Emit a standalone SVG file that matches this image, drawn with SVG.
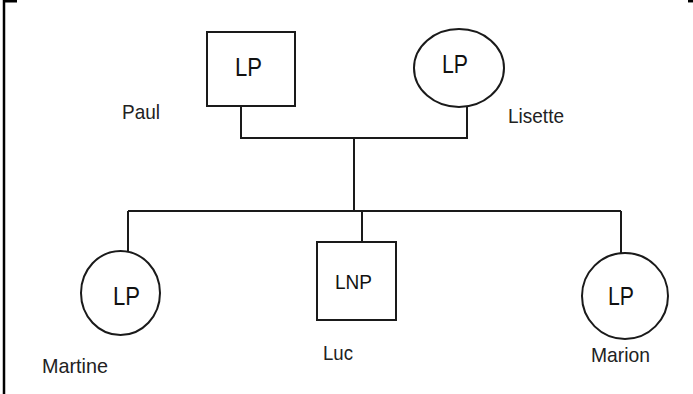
<svg xmlns="http://www.w3.org/2000/svg" width="693" height="394" viewBox="0 0 693 394">
  <style>
    .shape { fill: #ffffff; stroke: #1a1a1a; stroke-width: 2; }
    .link { fill: none; stroke: #1a1a1a; stroke-width: 2; }
    .frame { fill: none; stroke: #000000; stroke-width: 2.5; }
    .code { font-family: "Liberation Sans", Arial, sans-serif; font-size: 25px; fill: #111111; }
    .code-sm { font-family: "Liberation Sans", Arial, sans-serif; font-size: 20px; fill: #111111; }
    .name { font-family: "Liberation Sans", Arial, sans-serif; font-size: 21px; fill: #222222; }
  </style>

  <rect width="693" height="394" fill="#ffffff"/>

  <!-- page frame fragments -->
  <g id="frame">
    <polyline class="frame" points="17,1.2 4,1.2 4,394"/>
    <line class="frame" x1="688" y1="1.2" x2="693" y2="1.2"/>
  </g>

  <!-- connectors -->
  <g id="connectors">
    <polyline class="link" points="241,106 241,138 467,138 467,107"/>
    <line class="link" x1="354" y1="138" x2="354" y2="211"/>
    <line class="link" x1="128" y1="211" x2="621" y2="211"/>
    <line class="link" x1="128" y1="211" x2="128" y2="251"/>
    <line class="link" x1="362" y1="211" x2="362" y2="242"/>
    <line class="link" x1="621" y1="211" x2="621" y2="253"/>
  </g>

  <g id="paul">
    <rect class="shape" x="207" y="32" width="88" height="74"/>
    <text class="code" x="248.5" y="76" text-anchor="middle" textLength="27" lengthAdjust="spacingAndGlyphs">LP</text>
    <text class="name" x="122" y="119" textLength="38" lengthAdjust="spacingAndGlyphs">Paul</text>
  </g>

  <g id="lisette">
    <ellipse class="shape" cx="459" cy="68" rx="45" ry="39"/>
    <text class="code" x="455" y="73" text-anchor="middle" textLength="26" lengthAdjust="spacingAndGlyphs">LP</text>
    <text class="name" x="508" y="123" textLength="56" lengthAdjust="spacingAndGlyphs">Lisette</text>
  </g>

  <g id="martine">
    <ellipse class="shape" cx="120.5" cy="293" rx="39.5" ry="42"/>
    <text class="code" x="126.5" y="305" text-anchor="middle" textLength="27" lengthAdjust="spacingAndGlyphs">LP</text>
    <text class="name" x="42" y="373" textLength="66" lengthAdjust="spacingAndGlyphs">Martine</text>
  </g>

  <g id="luc">
    <rect class="shape" x="317" y="242" width="79" height="78"/>
    <text class="code-sm" x="353.5" y="289" text-anchor="middle" textLength="37" lengthAdjust="spacingAndGlyphs">LNP</text>
    <text class="name" x="323" y="360" textLength="30" lengthAdjust="spacingAndGlyphs">Luc</text>
  </g>

  <g id="marion">
    <ellipse class="shape" cx="625" cy="296" rx="43" ry="43"/>
    <text class="code" x="621" y="305" text-anchor="middle" textLength="26" lengthAdjust="spacingAndGlyphs">LP</text>
    <text class="name" x="591" y="362" textLength="59" lengthAdjust="spacingAndGlyphs">Marion</text>
  </g>
</svg>
